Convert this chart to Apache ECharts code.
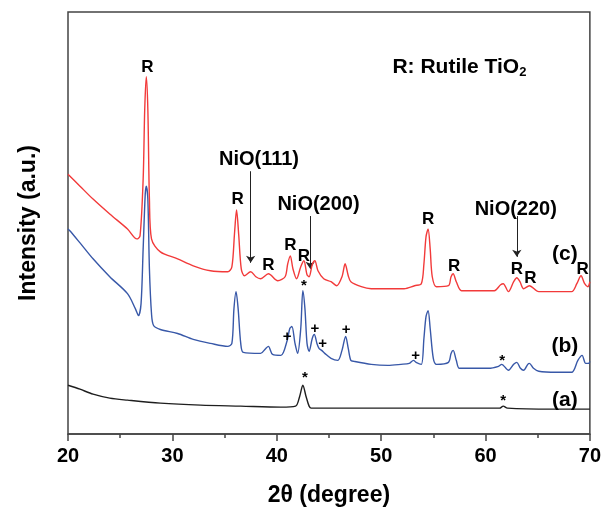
<!DOCTYPE html>
<html>
<head>
<meta charset="utf-8">
<script src="https://cdn.jsdelivr.net/npm/echarts@6/dist/echarts.min.js"></script>
<style>
  html, body { margin: 0; padding: 0; background: #fff; }
  #chart { width: 604px; height: 512px; }
</style>
</head>
<body>
<div id="chart"></div>
<script>
// XRD patterns, [2theta, intensity (a.u.)]
// (c) red
const curveC = [
  [20.0, 261], [21.15, 249], [22.4, 236], [24.0, 221], [25.7, 206], [26.6, 196], [26.9, 199],
  [27.2, 256], [27.35, 326], [27.5, 359], [27.65, 326], [27.8, 236], [28.0, 196], [28.85, 183],
  [30.5, 176], [32.0, 169], [33.65, 164], [35.3, 163], [35.7, 168], [35.95, 201], [36.15, 225],
  [36.35, 201], [36.6, 166], [36.9, 159], [37.5, 163], [38.0, 158], [38.45, 156], [39.2, 161],
  [40.1, 154], [40.8, 158], [41.05, 171], [41.3, 179], [41.55, 166], [41.9, 156], [42.3, 168],
  [42.6, 174], [42.9, 160], [43.1, 158], [43.4, 170], [43.65, 174], [43.95, 164], [44.5, 156],
  [45.2, 153], [45.75, 149], [46.25, 158], [46.55, 171], [46.85, 159], [47.1, 153], [48.1, 148],
  [49.05, 146], [50.5, 146], [52.2, 146], [53.2, 149], [53.85, 151], [54.1, 171], [54.3, 198],
  [54.5, 206], [54.7, 186], [54.9, 158], [55.3, 148], [56.45, 149], [56.7, 158], [56.9, 161],
  [57.2, 153], [57.7, 144], [59.1, 144], [60.85, 144], [61.45, 150], [61.7, 151], [62.2, 143],
  [62.7, 153], [63.0, 157], [63.3, 153], [63.65, 146], [64.2, 149], [65.1, 143], [66.8, 143],
  [68.25, 143], [68.75, 151], [69.15, 159], [69.5, 151], [69.8, 148], [70.0, 153]
];
// (b) blue
const curveB = [
  [20.0, 206], [20.2, 204], [21.15, 192], [22.4, 176], [24.0, 158], [25.7, 141], [26.45, 126],
  [26.75, 119], [27.0, 131], [27.2, 186], [27.4, 241], [27.5, 249], [27.65, 236], [27.8, 166],
  [28.0, 121], [28.2, 109], [28.85, 105], [30.5, 101], [32.0, 95], [33.65, 91], [35.3, 88],
  [35.7, 91], [35.9, 126], [36.1, 143], [36.3, 126], [36.55, 91], [36.8, 82], [38.45, 81],
  [38.95, 86], [39.2, 88], [39.6, 80], [40.4, 79], [41.0, 94], [41.25, 106], [41.45, 108],
  [41.75, 91], [42.0, 81], [42.3, 106], [42.5, 144], [42.7, 126], [42.9, 91], [43.1, 83],
  [43.4, 96], [43.6, 100], [43.85, 91], [44.05, 86], [44.3, 84], [44.6, 81], [45.2, 76],
  [45.85, 74], [46.25, 84], [46.6, 98], [46.85, 86], [47.1, 74], [47.4, 73], [49.05, 70],
  [50.65, 69], [51.9, 70], [52.7, 71], [53.1, 74], [53.35, 72], [53.85, 70], [54.1, 96],
  [54.3, 118], [54.5, 124], [54.7, 106], [55.0, 76], [55.3, 70], [56.45, 72], [56.7, 81],
  [56.9, 84], [57.2, 74], [57.5, 66], [58.65, 66], [60.3, 66], [61.25, 68], [61.55, 70],
  [62.2, 64], [62.7, 70], [63.0, 72], [63.35, 66], [63.65, 64], [64.05, 70], [64.2, 71],
  [64.6, 66], [65.1, 63], [66.8, 62], [68.25, 62], [68.85, 74], [69.25, 79], [69.6, 71],
  [69.9, 71], [70.0, 73]
];
// (a) black
const curveA = [
  [20.0, 49], [21.15, 45], [22.4, 40], [24.0, 36], [25.7, 34], [28.85, 31], [32.7, 29],
  [36.55, 28], [40.4, 27], [41.8, 28], [42.2, 38], [42.5, 49], [42.8, 38], [43.1, 28],
  [43.3, 26], [47.1, 26], [51.9, 26], [56.7, 26], [61.35, 26], [61.7, 28], [62.1, 26],
  [66.35, 25], [70.0, 25]
];

// peak markers [2theta, y, text]
const peakMarks = [
  [27.6, 368, 'R'], [36.25, 236, 'R'], [39.2, 169, 'R'], [41.3, 190, 'R'], [42.6, 179, 'R'],
  [54.5, 216, 'R'], [57.0, 168, 'R'], [63.0, 165, 'R'], [64.3, 156, 'R'], [69.3, 165, 'R']
];
const phaseMarks = [
  [42.6, 149, '*'], [41.0, 98, '+'], [43.65, 106, '+'], [44.4, 91, '+'], [46.65, 105, '+'],
  [53.3, 79, '+'], [61.6, 73, '*'], [42.7, 56, '*'], [61.7, 33, '*']
];
const nioLabels = [
  [38.3, 276, 'NiO(111)'], [44.0, 231, 'NiO(200)'], [62.9, 226, 'NiO(220)']
];
const nioArrows = [
  [[37.5, 264], [37.5, 172]],
  [[43.2, 219], [43.2, 166]],
  [[63.0, 219], [63.0, 178]]
];
const sampleLabels = [
  [67.6, 181, '(c)'], [67.6, 88, '(b)'], [67.6, 34, '(a)']
];

const fontFamily = '"Liberation Sans", Arial, sans-serif';

function textSeries(rows, size, extra) {
  return {
    type: 'scatter',
    symbolSize: 0,
    silent: true,
    z: 5,
    itemStyle: { opacity: 1 },
    data: rows.map(r => ({ value: [r[0], r[1]], name: r[2] })),
    label: Object.assign({
      show: true,
      position: 'inside',
      formatter: p => p.name,
      color: '#000',
      opacity: 1,
      fontFamily: fontFamily,
      fontWeight: 'bold',
      fontSize: size
    }, extra || {})
  };
}

function curve(data, color) {
  return {
    type: 'line',
    data: data,
    showSymbol: false,
    smooth: 0.3,
    lineStyle: { color: color, width: 1.4 },
    z: 3
  };
}

const chart = echarts.init(document.getElementById('chart'));
chart.setOption({
  animation: false,
  backgroundColor: '#fff',
  grid: {
    left: 68, right: 14, top: 12, bottom: 76,
    show: true, borderColor: '#444', borderWidth: 1.5
  },
  xAxis: {
    type: 'value',
    min: 20, max: 70, interval: 10,
    name: '2θ (degree)',
    nameLocation: 'middle',
    nameGap: 50,
    nameTextStyle: { fontFamily: fontFamily, fontWeight: 'bold', fontSize: 23, color: '#000' },
    axisLine: { lineStyle: { color: '#444', width: 1.5 } },
    axisTick: { length: 7, lineStyle: { color: '#444', width: 1.5 } },
    minorTick: { show: true, splitNumber: 2, length: 4, lineStyle: { color: '#444', width: 1.5 } },
    axisLabel: { fontFamily: fontFamily, fontWeight: 'bold', fontSize: 20, color: '#000', margin: 12 },
    splitLine: { show: false }
  },
  yAxis: {
    type: 'value',
    min: 0, max: 424,
    name: 'Intensity (a.u.)',
    nameLocation: 'middle',
    nameGap: 28,
    nameTextStyle: { fontFamily: fontFamily, fontWeight: 'bold', fontSize: 23, color: '#000' },
    axisLine: { show: false },
    axisTick: { show: false },
    axisLabel: { show: false },
    splitLine: { show: false }
  },
  series: [
    curve(curveA, '#1e1e1e'),
    curve(curveB, '#3858a8'),
    curve(curveC, '#f23a3a'),
    textSeries(peakMarks, 17),
    textSeries(phaseMarks, 15),
    textSeries(nioLabels, 20),
    textSeries(sampleLabels, 21),
    {
      type: 'lines',
      coordinateSystem: 'cartesian2d',
      polyline: false,
      silent: true,
      symbol: ['none', 'arrow'],
      symbolSize: 7,
      lineStyle: { color: '#222', width: 1, opacity: 1 },
      data: nioArrows.map(a => ({ coords: a }))
    },
    {
      type: 'scatter',
      symbolSize: 0,
      silent: true,
      itemStyle: { opacity: 1 },
      data: [[57.5, 369]],
      label: {
        show: true,
        position: 'inside',
        formatter: 'R: Rutile TiO{sub|2}',
        color: '#000',
        opacity: 1,
        fontFamily: fontFamily,
        fontWeight: 'bold',
        fontSize: 21,
        rich: {
          sub: { fontFamily: fontFamily, fontWeight: 'bold', fontSize: 13, color: '#000', padding: [12, 0, 0, 0] }
        }
      }
    }
  ]
});
</script>
</body>
</html>
